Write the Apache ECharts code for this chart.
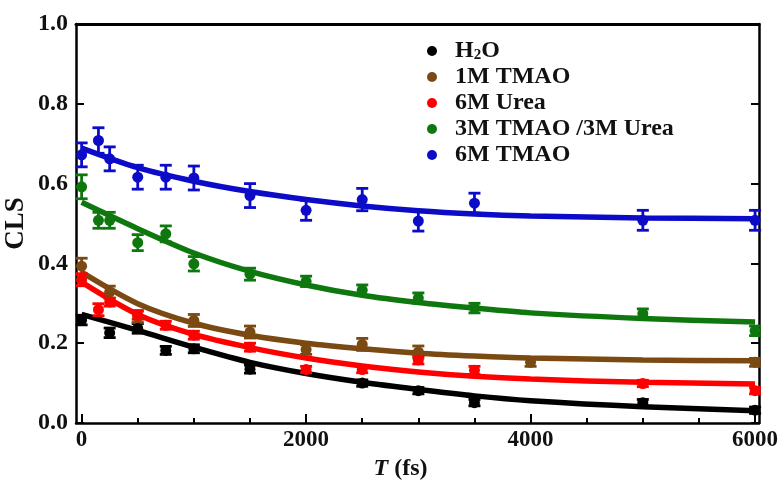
<!DOCTYPE html>
<html><head><meta charset="utf-8">
<script src="https://cdn.jsdelivr.net/npm/echarts@6/dist/echarts.min.js"></script>
<style>html,body{margin:0;padding:0;background:#fff}#c{width:781px;height:487px}</style>
</head><body><div id="c"></div>
<script>
// ---- data ----
const seriesNames = ['H2O', '1M TMAO', '6M Urea', '3M TMAO /3M Urea', '6M TMAO'];
const seriesColors = ['#000000', '#7a4a12', '#ff0000', '#0e780e', '#0c0cc8'];

const h2oT = [0, 250, 500, 750, 1000, 1500, 2500, 3000, 3500, 5000, 6000];
const h2oV = [0.258, 0.226, 0.237, 0.182, 0.186, 0.135, 0.100, 0.081, 0.051, 0.051, 0.032];
const h2oE = [0.012, 0.012, 0.012, 0.010, 0.010, 0.010, 0.008, 0.008, 0.008, 0.008, 0.008];

const tmao1T = [0, 250, 500, 1000, 1500, 2000, 2500, 3000, 4000, 6000];
const tmao1V = [0.393, 0.328, 0.267, 0.257, 0.228, 0.184, 0.197, 0.178, 0.152, 0.152];
const tmao1E = [0.020, 0.015, 0.015, 0.015, 0.015, 0.012, 0.015, 0.015, 0.010, 0.010];

const ureaT = [0, 150, 250, 500, 750, 1000, 1500, 2000, 2500, 3000, 3500, 5000, 6000];
const ureaV = [0.359, 0.284, 0.303, 0.270, 0.245, 0.220, 0.190, 0.134, 0.134, 0.158, 0.132, 0.099, 0.081];
const ureaE = [0.015, 0.015, 0.010, 0.010, 0.010, 0.010, 0.010, 0.008, 0.008, 0.010, 0.010, 0.008, 0.008];

const mixT = [0, 150, 250, 500, 750, 1000, 1500, 2000, 2500, 3000, 3500, 5000, 6000];
const mixV = [0.592, 0.508, 0.508, 0.452, 0.474, 0.399, 0.373, 0.355, 0.333, 0.313, 0.288, 0.274, 0.231];
const mixE = [0.030, 0.020, 0.020, 0.020, 0.020, 0.018, 0.015, 0.013, 0.013, 0.013, 0.012, 0.012, 0.012];

const tmao6T = [0, 150, 250, 500, 750, 1000, 1500, 2000, 2500, 3000, 3500, 5000, 6000];
const tmao6V = [0.672, 0.708, 0.662, 0.616, 0.616, 0.614, 0.570, 0.533, 0.560, 0.506, 0.551, 0.508, 0.508];
const tmao6E = [0.030, 0.032, 0.030, 0.030, 0.030, 0.030, 0.030, 0.025, 0.028, 0.025, 0.025, 0.025, 0.025];

// fitted curves
const fitT     = [0, 500, 1000, 1500, 2000, 2500, 3000, 3500, 4000, 5000, 6000];
const h2oFit   = [0.272, 0.232, 0.190, 0.152, 0.124, 0.102, 0.084, 0.068, 0.056, 0.041, 0.031];
const tmao1Fit = [0.378, 0.299, 0.250, 0.220, 0.200, 0.186, 0.175, 0.168, 0.163, 0.158, 0.156];
const ureaFit  = [0.353, 0.272, 0.222, 0.189, 0.163, 0.143, 0.128, 0.117, 0.110, 0.102, 0.098];
const mixFit   = [0.553, 0.487, 0.426, 0.380, 0.346, 0.320, 0.302, 0.288, 0.276, 0.262, 0.253];
const tmao6Fit = [0.689, 0.640, 0.606, 0.580, 0.560, 0.544, 0.532, 0.524, 0.519, 0.514, 0.512];

const xMajorTicks = [0, 2000, 4000, 6000];
const xMinorTicks = [500, 1000, 1500, 2500, 3000, 3500, 4500, 5000, 5500];

// ---- build ----
const FONT = '"Liberation Serif","Times New Roman",serif';
const pts = [[h2oT, h2oV, h2oE], [tmao1T, tmao1V, tmao1E], [ureaT, ureaV, ureaE], [mixT, mixV, mixE], [tmao6T, tmao6V, tmao6E]];
const fits = [h2oFit, tmao1Fit, ureaFit, mixFit, tmao6Fit];

const series = [];
fits.forEach((f, i) => {
  series.push({
    type: 'line', name: seriesNames[i] + ' fit', data: fitT.map((t, k) => [t, f[k]]),
    smooth: 0.3, symbol: 'none', silent: true,
    lineStyle: { color: seriesColors[i], width: 5.5 }, z: 2
  });
});
pts.forEach((p, i) => {
  series.push({
    type: 'custom', name: seriesNames[i] + ' err', data: p[0].map((t, k) => [t, p[1][k], p[2][k]]),
    encode: { x: 0, y: 1 }, z: 3, silent: true,
    renderItem: function (params, api) {
      const x = api.value(0), y = api.value(1), e = api.value(2);
      const top = api.coord([x, y + e]);
      const bot = api.coord([x, y - e]);
      const hw = 6;
      const st = { stroke: seriesColors[i], lineWidth: 2.8 };
      return {
        type: 'group', children: [
          { type: 'line', shape: { x1: top[0], y1: top[1], x2: bot[0], y2: bot[1] }, style: st },
          { type: 'line', shape: { x1: top[0] - hw, y1: top[1], x2: top[0] + hw, y2: top[1] }, style: st },
          { type: 'line', shape: { x1: bot[0] - hw, y1: bot[1], x2: bot[0] + hw, y2: bot[1] }, style: st }
        ]
      };
    }
  });
  series.push({
    type: 'scatter', name: seriesNames[i], data: p[0].map((t, k) => [t, p[1][k]]),
    symbol: 'circle', symbolSize: 11, itemStyle: { color: seriesColors[i], opacity: 1 }, z: 4
  });
});

const chart = echarts.init(document.getElementById('c'), null, { renderer: 'canvas' });
chart.setOption({
  animation: false,
  backgroundColor: '#fff',
  grid: { left: 76, right: 22, top: 24, bottom: 64, outerBoundsMode: 'none', containLabel: false },
  legend: {
    data: seriesNames, orient: 'vertical', left: 422, top: 34,
    icon: 'circle', itemWidth: 10, itemHeight: 10, itemGap: 2,
    textStyle: {
      fontFamily: FONT, fontWeight: 'bold', fontSize: 24, color: '#111', lineHeight: 24, padding: [0, 0, 0, 13],
      rich: {
        a: { fontFamily: FONT, fontWeight: 'bold', fontSize: 24, color: '#111' },
        s: { fontFamily: FONT, fontWeight: 'bold', fontSize: 15, color: '#111', padding: [9, 0, 0, 0] }
      }
    },
    formatter: function (n) { return n === 'H2O' ? '{a|H}{s|2}{a|O}' : n; }
  },
  xAxis: [
    {
      type: 'value', min: -50, max: 6035, position: 'bottom',
      name: '{i|T} (fs)', nameLocation: 'middle', nameGap: 32,
      nameTextStyle: {
        fontFamily: FONT, fontWeight: 'bold', fontSize: 24, color: '#111', padding: [0, 34, 0, 0],
        rich: { i: { fontFamily: FONT, fontWeight: 'bold', fontStyle: 'italic', fontSize: 24, color: '#111' } }
      },
      axisLine: { show: true, onZero: false, lineStyle: { color: '#000', width: 2.5 } },
      axisTick: { show: true, inside: true, length: 9, customValues: xMajorTicks, lineStyle: { color: '#000', width: 2 } },
      axisLabel: { customValues: xMajorTicks, margin: 6, fontFamily: FONT, fontWeight: 'bold', fontSize: 23, color: '#111', formatter: v => String(v) },
      splitLine: { show: false }
    },
    {
      type: 'value', min: -50, max: 6035, position: 'bottom',
      axisLine: { show: false },
      axisTick: { show: true, inside: true, length: 5, customValues: xMinorTicks, lineStyle: { color: '#000', width: 2 } },
      axisLabel: { show: false }, splitLine: { show: false }
    },
    {
      type: 'value', min: -50, max: 6035, position: 'top',
      axisLine: { show: true, onZero: false, lineStyle: { color: '#000', width: 3 } },
      axisTick: { show: false }, axisLabel: { show: false }, splitLine: { show: false }
    }
  ],
  yAxis: [
    {
      type: 'value', min: 0, max: 1, interval: 0.2, position: 'left',
      name: 'CLS', nameLocation: 'middle', nameGap: 46, nameRotate: 90, nameMoveOverlap: false,
      nameTextStyle: { fontFamily: FONT, fontWeight: 'bold', fontSize: 27, color: '#111' },
      axisLine: { show: true, onZero: false, lineStyle: { color: '#000', width: 2.5 } },
      axisTick: { show: true, inside: true, length: 8, lineStyle: { color: '#000', width: 2 } },
      axisLabel: { margin: 8, fontFamily: FONT, fontWeight: 'bold', fontSize: 24, color: '#111', formatter: v => v.toFixed(1) },
      splitLine: { show: false }
    },
    {
      type: 'value', min: 0, max: 1, interval: 0.2, position: 'right',
      axisLine: { show: true, onZero: false, lineStyle: { color: '#000', width: 2.5 } },
      axisTick: { show: true, inside: true, length: 8, lineStyle: { color: '#000', width: 2 } },
      axisLabel: { show: false }, splitLine: { show: false }
    }
  ],
  series: series
});
</script></body></html>
